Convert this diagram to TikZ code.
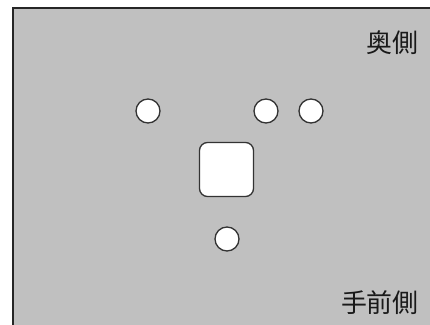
\documentclass[tikz,border=0pt]{standalone}
\usepackage{fontspec}
\newfontfamily\cjk{Noto Sans CJK JP}
\begin{document}
\begin{tikzpicture}[x=1bp,y=1bp,
  hole/.style={circle,draw=black!80,line width=1.3bp,fill=white,minimum size=24bp,inner sep=0pt},
  boxhole/.style={rectangle,rounded corners=8bp,draw=black!80,line width=1.3bp,fill=white,minimum size=54bp,inner sep=0pt},
  lbl/.style={font=\cjk\fontsize{26}{30}\selectfont,text=black!90,inner sep=0pt,anchor=east}]
\useasboundingbox (0,0) rectangle (430,325);
\clip (0,0) rectangle (430,325);
\fill[white] (0,0) rectangle (430,325);
\draw[fill={rgb,255:red,192;green,192;blue,192},draw=black!85,line width=1.5bp] (13,-20) rectangle (460,317);
\node[hole] (h1) at (148,214) {};
\node[hole] (h2) at (266,214) {};
\node[hole] (h3) at (311,214) {};
\node[hole] (h4) at (227,86) {};
\node[boxhole] (sq) at (226.5,155.5) {};
\node[lbl] (back) at (419,282) {奥側};
\node[lbl] (front) at (419,22) {手前側};
\end{tikzpicture}
\end{document}
